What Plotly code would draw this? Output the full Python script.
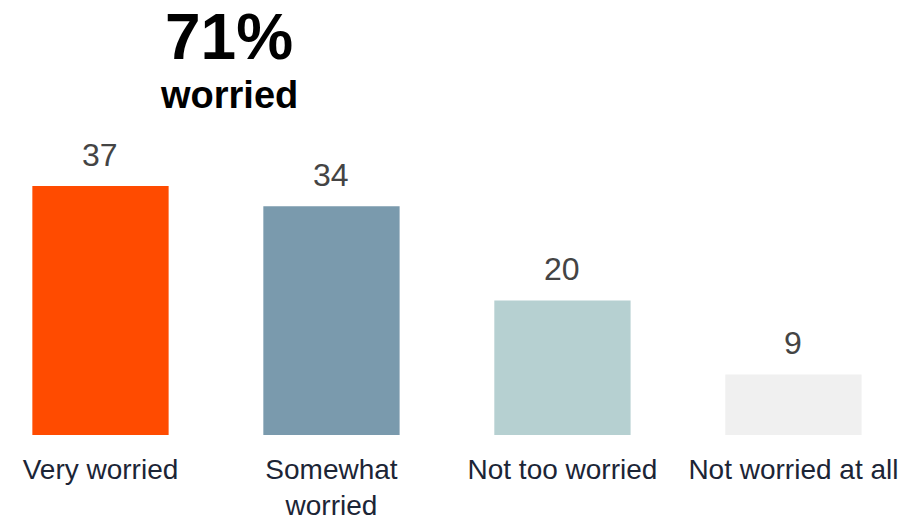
import plotly.graph_objects as go

categories = ["Very worried", "Somewhat<br>worried", "Not too worried", "Not worried at all"]
values = [37, 34, 20, 9]
colors = ["#FF4B00", "#7A9AAD", "#B6D0D1", "#F0F0F0"]
headline = "71%"
subhead = "worried"

FONT = "Liberation Sans, Arial, sans-serif"

fig = go.Figure(go.Bar(
    x=categories, y=values, marker=dict(color=colors, line=dict(width=0)),
    width=0.59, hoverinfo="skip",
))

for c, v in zip(categories, values):
    fig.add_annotation(x=c, y=v, text=str(v), showarrow=False, yanchor="bottom",
                       yshift=11, font=dict(family=FONT, size=32, color="#444444"))

fig.add_annotation(x=0.556, y=59.2, xref="x", yref="y", text=f"<b>{headline}</b>", showarrow=False,
                   font=dict(family=FONT, size=64, color="#000000"))
fig.add_annotation(x=0.556, y=50.5, xref="x", yref="y", text=f"<b>{subhead}</b>", showarrow=False,
                   font=dict(family=FONT, size=38, color="#000000"))

fig.update_layout(
    width=900, height=514,
    margin=dict(l=0, r=0, t=0, b=87),
    paper_bgcolor="white", plot_bgcolor="white",
    showlegend=False,
    xaxis=dict(range=[-0.4004, 3.496], showgrid=False, showline=False, zeroline=False, ticks="",
               tickfont=dict(family=FONT, size=28, color="#1C2536"), ticklabelstandoff=15),
    yaxis=dict(range=[0, 63.45], visible=False),
)

fig.write_html("out.html")
